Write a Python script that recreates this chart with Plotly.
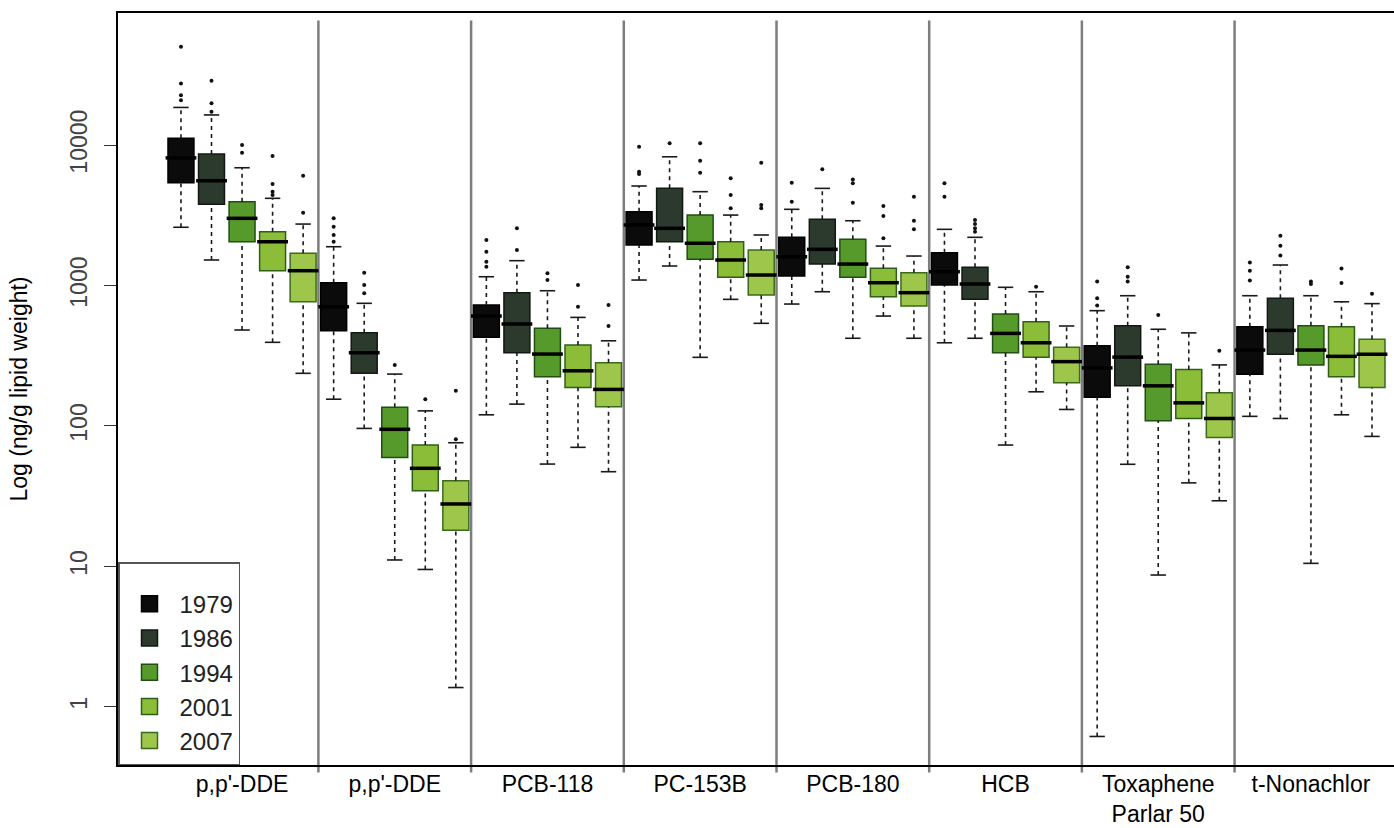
import plotly.graph_objects as go

years = ["1979", "1986", "1994", "2001", "2007"]
compounds = ["p,p'-DDE", "p,p'-DDE", "PCB-118", "PC-153B", "PCB-180", "HCB",
             "Toxaphene<br>Parlar 50", "t-Nonachlor"]

fill_colors = ["#0b0b0b", "#2c392d", "#579a2c", "#8bbd38", "#9dc64b"]
edge_colors = ["#000000", "#111a12", "#1f4f12", "#2f5f16", "#3a6a1c"]

# per year: values for the 8 compounds (ng/g lipid weight)
lower_1979 = [2600, 155, 120, 1094, 738, 391, 0.614, 117]
q1_1979 = [5400, 477, 428, 1942, 1169, 1009, 160, 233]
median_1979 = [8110, 706, 606, 2700, 1603, 1254, 259, 347]
q3_1979 = [11170, 1047, 726, 3355, 2205, 1713, 373, 508]
upper_1979 = [18550, 1890, 1155, 5115, 3490, 2513, 662, 846]
outliers_1979 = [[50100, 27500, 22700, 20900], [3010, 2620, 2290, 2050], [2110, 1740, 1478, 1362],
                 [9740, 6460, 6220], [5400, 3955], [5345, 4290], [1070, 812, 722], [1458, 1275, 1087]]

lower_1986 = [1520, 96, 143, 1377, 903, 421, 53.3, 113]
q1_1986 = [3795, 237, 332, 2050, 1422, 797, 193, 324]
median_1986 = [5575, 332, 532, 2555, 1810, 1025, 309, 479]
q3_1986 = [8650, 461, 889, 4920, 2960, 1349, 517, 812]
upper_1986 = [16400, 747, 1503, 8260, 4920, 2205, 846, 1400]
outliers_1986 = [[28750, 19850, 17300], [1233, 1009, 880], [2555, 1790], [10300], [6730],
                 [2930, 2740, 2555, 2415], [1352, 1153, 1070], [2264, 1920, 1638]]

lower_1994 = [482, 11.1, 53.5, 308, 421, 73.1, 8.67, 10.5]
q1_1994 = [2050, 59.7, 224, 1537, 1143, 332, 109, 272]
median_1994 = [3010, 94.6, 325, 2000, 1422, 456, 193, 347]
q3_1994 = [3955, 136, 496, 3175, 2133, 627, 275, 517]
upper_1994 = [6900, 234, 918, 4660, 2893, 971, 488, 846]
outliers_1994 = [[10000, 8830], [272], [1222, 1094], [10300, 7740, 6360], [5700, 5345, 3890],
                 [], [617], [1070, 1025]]

lower_2001 = [394, 9.5, 70.4, 797, 606, 175, 39.3, 120]
q1_2001 = [1275, 34.5, 188, 1143, 832, 308, 113, 224]
median_2001 = [2050, 49.9, 247, 1520, 1047, 391, 146, 313]
q3_2001 = [2415, 73.1, 377, 2050, 1325, 552, 252, 508]
upper_2001 = [4180, 128, 593, 3175, 1910, 903, 460, 766]
outliers_2001 = [[8360, 5285, 4660, 4410], [155], [1009, 706], [5800, 4415, 3548],
                 [3680, 3125, 2170], [980], [], [1320, 1043]]

lower_2007 = [237, 1.37, 47.2, 538, 421, 131, 29.3, 84.2]
q1_2007 = [767, 18.1, 137, 856, 715, 203, 82.7, 188]
median_2007 = [1275, 27.8, 182, 1188, 889, 287, 113, 324]
q3_2007 = [1695, 40.7, 282, 1790, 1233, 363, 172, 414]
upper_2007 = [2740, 75.9, 404, 2290, 1622, 515, 272, 743]
outliers_2007 = [[6050, 3300], [178, 80.3], [726, 515], [7500, 3745, 3548],
                 [4290, 2896, 2513], [], [343], [875]]

y_ticks = [1, 10, 100, 1000, 10000]
y_tick_labels = ["1", "10", "100", "1000", "10000"]

stats = [
    (lower_1979, q1_1979, median_1979, q3_1979, upper_1979, outliers_1979),
    (lower_1986, q1_1986, median_1986, q3_1986, upper_1986, outliers_1986),
    (lower_1994, q1_1994, median_1994, q3_1994, upper_1994, outliers_1994),
    (lower_2001, q1_2001, median_2001, q3_2001, upper_2001, outliers_2001),
    (lower_2007, q1_2007, median_2007, q3_2007, upper_2007, outliers_2007),
]

n_years = len(years)
n_groups = len(compounds)
FONT = "Liberation Sans, Arial, Helvetica, sans-serif"

fig = go.Figure()

# whiskers (dashed) first so boxes sit on top
wx, wy, cx, cy = [], [], [], []
for k, (lo, q1, med, q3, hi, outs) in enumerate(stats):
    for g in range(n_groups):
        p = g * n_years + k + 1
        wx += [p, p, None, p, p, None]
        wy += [lo[g], q1[g], None, q3[g], hi[g], None]
        cx += [p, p]
        cy += [lo[g], hi[g]]
fig.add_trace(go.Scatter(x=wx, y=wy, mode="lines", showlegend=False, hoverinfo="skip",
                         line=dict(color="#1a1a1a", width=1.6, dash="4px,4px")))
fig.add_trace(go.Scatter(x=cx, y=cy, mode="markers", showlegend=False, hoverinfo="skip",
                         marker=dict(symbol="line-ew", size=11,
                                     line=dict(color="#1a1a1a", width=1.6))))

for k, (lo, q1, med, q3, hi, outs) in enumerate(stats):
    pos = [g * n_years + k + 1 for g in range(n_groups)]
    fig.add_trace(go.Box(
        x=pos, q1=q1, median=med, q3=q3, lowerfence=q1, upperfence=q3,
        width=0.85, boxpoints=False, fillcolor=fill_colors[k],
        line=dict(color=edge_colors[k], width=1.5), showlegend=False, hoverinfo="skip"))
    fig.add_trace(go.Scatter(
        x=pos, y=med, mode="markers", showlegend=False, hoverinfo="skip",
        marker=dict(symbol="line-ew", size=22, line=dict(color="#000000", width=3.5))))
    ox, oy = [], []
    for g in range(n_groups):
        for v in outs[g]:
            ox.append(pos[g])
            oy.append(v)
    fig.add_trace(go.Scatter(x=ox, y=oy, mode="markers", showlegend=False, hoverinfo="skip",
                             marker=dict(symbol="circle", size=4, color="#111111")))

# legend entries
for k, yr in enumerate(years):
    fig.add_trace(go.Scatter(x=[None], y=[None], mode="markers", name=yr,
                             marker=dict(symbol="square", size=18, color=fill_colors[k],
                                         line=dict(color=edge_colors[k], width=1.5))))

# group separators
shapes = []
for g in range(1, n_groups):
    xs = g * n_years + 0.5
    shapes.append(dict(type="line", xref="x", yref="paper", x0=xs, x1=xs, y0=-0.01, y1=0.99,
                       line=dict(color="#7d7d7d", width=2.5), layer="below"))

centers = [g * n_years + (n_years + 1) / 2 for g in range(n_groups)]

fig.update_layout(
    width=1394, height=828,
    margin=dict(l=118, r=0, t=13, b=63),
    paper_bgcolor="white", plot_bgcolor="white",
    boxmode="overlay",
    shapes=shapes,
    font=dict(family=FONT, color="#000000"),
    legend=dict(x=0, y=0, xanchor="left", yanchor="bottom", bgcolor="white",
                bordercolor="#555555", borderwidth=1.5, font=dict(size=24, color="#222222"),
                itemsizing="trace", tracegroupgap=0, itemwidth=50,
                title=dict(text=" ", font=dict(size=14))),
    xaxis=dict(range=[-1.062, 40.72], tickvals=centers, ticktext=compounds, ticks="",
               showgrid=False, zeroline=False, showline=True, mirror=True, automargin=False,
               linecolor="#000000", linewidth=2, tickfont=dict(size=23, color="#000000"),
               ticklabelstandoff=-3),
    yaxis=dict(type="log", range=[-0.415, 4.941], tickvals=y_ticks, ticktext=y_tick_labels,
               tickangle=-90, ticks="outside", ticklen=12, tickcolor="#333333", tickwidth=1.2,
               showgrid=False, zeroline=False, showline=True, linecolor="#000000", linewidth=2,
               automargin=False,
               tickfont=dict(size=23, color="#444444"), ticklabelstandoff=8,
               title=dict(text="Log (ng/g lipid weight)", font=dict(size=23, color="#000000"),
                          standoff=32)),
)

fig.write_html("out.html", config={"displayModeBar": False},
               post_script="document.body.style.margin='0px';")
